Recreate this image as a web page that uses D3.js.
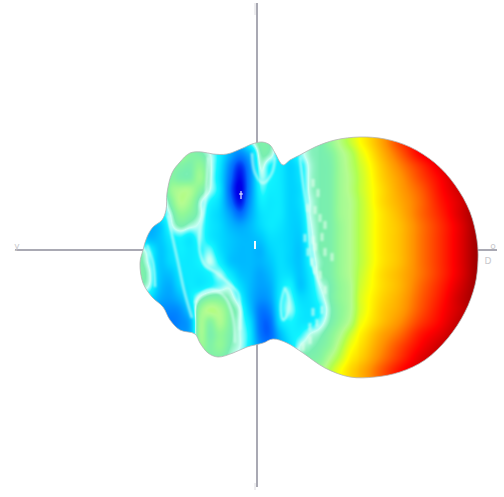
<!DOCTYPE html>
<html>
<head>
<meta charset="utf-8">
<script src="https://cdn.jsdelivr.net/npm/d3@7"></script>
<style>
  html, body { margin: 0; background: #fff; }
  svg { display: block; }
</style>
</head>
<body>
<div id="chart"></div>
<script>
// pattern surface, units are offsets from where the two axes cross
const gridX = [-117,-107,-97,-87,-77,-67,-57,-47,-37,-27,-17,-7,3,13,23,33,43,53,63,73,83,93,103,123,143,163,183,203,223];
const gridY = [120,108,96,84,72,60,48,36,24,12,0,-12,-24,-36,-48,-60,-72,-84,-96,-108,-120,-132];

// gain, one row per gridY, one value per gridX
const gain120 = [30,30,32,35,40,46,44,38,32,26,30,40,46,45,38,34,38,44,45,50,56,62,68,77,87,93,96,99,100];
const gain108 = [30,30,32,35,40,46,44,38,32,26,30,40,46,45,38,34,38,44,45,50,56,62,68,77,87,93,96,99,100];
const gain96 = [30,30,33,38,50,48,46,42,36,26,20,28,44,44,36,34,40,44,45,47,53,58,65,75,84,92,96,99,100];
const gain84 = [30,30,34,46,47,46,50,43,35,20,10,22,42,38,36,32,36,43,45,46,52,57,63,73,81,88,94,98,100];
const gain72 = [30,30,34,47,46,46,52,43,34,17,6,20,40,38,36,32,35,43,45,46,52,56,62,72,79,86,92,97,100];
const gain60 = [30,30,35,50,54,54,48,42,35,15,4,20,38,37,36,32,34,43,45,46,52,56,62,71,78,84,91,96,100];
const gain48 = [30,30,35,46,55,52,43,38,33,18,7,22,36,36,36,32,34,42,45,46,52,55,61,71,77,83,90,95,100];
const gain36 = [28,30,36,42,50,48,43,36,32,24,16,25,34,36,36,32,33,42,45,46,52,55,61,70,76,83,89,95,100];
const gain24 = [26,26,30,40,45,43,41,36,33,28,25,28,33,36,35,32,32,41,45,46,51,55,61,70,75,82,88,94,100];
const gain12 = [34,28,30,36,38,36,40,36,33,30,28,28,30,34,34,32,31,40,45,46,51,55,61,70,75,82,88,94,100];
const gain0 = [44,38,30,34,37,36,38,40,34,30,28,28,27,32,34,32,30,39,45,46,51,55,61,70,75,82,88,94,100];
const gainM12 = [46,40,30,33,36,36,38,42,37,30,28,28,27,30,34,32,30,38,44,46,51,55,61,70,75,82,88,94,100];
const gainM24 = [47,42,30,29,35,36,36,38,41,36,30,28,25,28,34,34,30,36,44,46,51,55,62,71,76,82,88,94,100];
const gainM36 = [45,41,29,26,33,36,36,38,40,41,34,28,24,26,35,38,30,35,42,45,50,54,63,71,76,83,89,95,100];
const gainM48 = [38,34,26,24,28,36,43,47,47,44,38,28,22,24,36,40,34,35,40,45,50,54,64,72,77,84,90,96,100];
const gainM60 = [34,28,22,20,22,32,50,56,54,47,42,30,18,20,36,41,36,35,38,44,49,54,64,73,78,85,91,96,100];
const gainM72 = [30,26,22,18,20,26,52,48,54,47,42,34,17,16,34,38,36,36,40,45,50,56,66,74,80,87,92,97,100];
const gainM84 = [28,24,20,20,22,26,52,46,50,46,42,36,18,15,28,36,38,42,44,48,54,62,69,77,83,90,94,98,100];
const gainM96 = [28,24,22,22,24,28,50,47,50,45,42,36,22,18,26,34,42,44,46,50,58,66,71,79,86,92,96,99,100];
const gainM108 = [28,24,22,22,24,28,44,46,46,43,40,36,28,24,28,34,44,46,48,55,62,69,73,81,88,94,97,99,100];
const gainM120 = [28,24,22,22,24,28,38,40,40,40,40,36,30,28,30,36,46,48,52,60,67,72,76,84,91,95,98,100,100];
const gainM132 = [28,24,22,22,24,28,38,40,40,40,40,36,30,28,30,36,46,48,52,60,67,72,76,84,91,95,98,100,100];
const gainRows = [gain120,gain108,gain96,gain84,gain72,gain60,gain48,gain36,gain24,gain12,gain0,gainM12,gainM24,gainM36,gainM48,gainM60,gainM72,gainM84,gainM96,gainM108,gainM120,gainM132];

const outlineX = [43,58,78,103,128,153,178,198,213,220,221,218,208,191,168,143,118,93,68,46,30,16,6,-10,-24,-39,-49,-57,-62,-77,-87,-94,-105,-114,-117,-114,-110,-104,-95,-91,-90,-85,-77,-67,-55,-44,-30,-14,-5,5,13,18,26,33];
const outlineY = [95,103,110,113,111,103,87,65,38,10,-10,-35,-62,-88,-110,-122,-127,-127,-118,-103,-93,-89,-93,-97,-103,-107,-103,-93,-84,-80,-70,-57,-47,-33,-13,0,13,23,30,40,57,77,88,97,98,96,96,102,106,108,105,97,85,90];

// pale contour bands that are too thin for the gain grid
const bandLeft = [[-89,35],[-85,15],[-79,-12],[-73,-40],[-65,-68]];
const bandMiddle = [[-49,93],[-50,70],[-52,47],[-57,20],[-57,-3],[-52,-15],[-40,-23],[-29,-33],[-19,-43],[-17,-57],[-17,-80]];
const bandLower = [[-62,-53],[-55,-43],[-44,-40],[-32,-47],[-24,-67],[-22,-93]];
const bandEdge = [[-110,5],[-104,-13],[-102,-37]];
const bandTop = [[-5,97],[-2,77],[6,67],[15,77],[18,93]];
const bandRight = [[43,93],[46,67],[51,33],[55,-13],[65,-37]];
const bandLoop = [[28,-37],[32,-50],[30,-65],[26,-70],[24,-55],[28,-37]];
const bands = [bandLeft, bandMiddle, bandLower, bandEdge, bandTop, bandRight, bandLoop];

const speckleX = [56,61,51,58,63,68,48,56,65,51,58,68,75,55,63,68,58,56,65,53,60,46,53,41];
const speckleY = [67,57,42,40,32,25,12,10,13,-2,3,-2,-7,-12,-25,-40,-20,-62,-60,-77,-73,-97,-90,-102];

const gainStops = [0,5,15,25,32,38,42,45,50,55,60,68,80,92,100];
const gainColors = ["#0000c8","#0000e8","#0068ff","#00a8ff","#00d4ff","#10f4ff","#c8fff4","#78eeb0","#90f898","#b4fc90","#b0ff50","#ffff00","#ff9000","#ff0000","#980000"];

const width = 504;
const height = 497;

const x = d3.scaleLinear().domain([-257, 247]).range([0, width]);
const y = d3.scaleLinear().domain([250, -247]).range([0, height]);
const color = d3.scaleLinear().domain(gainStops).range(gainColors).clamp(true);

const colIndex = d3.scaleLinear().domain(gridX).range(d3.range(gridX.length)).clamp(true);
const rowIndex = d3.scaleLinear().domain(gridY).range(d3.range(gridY.length)).clamp(true);

function cubic(a, b, c, d, t) {
  return b + 0.5 * t * (c - a + t * (2 * a - 5 * b + 4 * c - d + t * (3 * (b - c) + d - a)));
}

function gainAt(u, v) {
  const c = colIndex(u), r = rowIndex(v);
  const c0 = Math.min(Math.floor(c), gridX.length - 2);
  const r0 = Math.min(Math.floor(r), gridY.length - 2);
  const across = [-1, 0, 1, 2].map((dr) => {
    const row = gainRows[Math.max(0, Math.min(gridY.length - 1, r0 + dr))];
    const at = (i) => row[Math.max(0, Math.min(gridX.length - 1, c0 + i))];
    return cubic(at(-1), at(0), at(1), at(2), c - c0);
  });
  return cubic(across[0], across[1], across[2], across[3], r - r0);
}

// paint the surface once, the svg clips it to the outline
const canvas = document.createElement("canvas");
canvas.width = width;
canvas.height = height;
const ctx = canvas.getContext("2d");
const img = ctx.createImageData(width, height);
for (let py = 130; py < 385; py++) {
  for (let px = 135; px < 485; px++) {
    const c = d3.rgb(color(gainAt(x.invert(px + 0.5), y.invert(py + 0.5))));
    const k = (py * width + px) * 4;
    img.data[k] = c.r;
    img.data[k + 1] = c.g;
    img.data[k + 2] = c.b;
    img.data[k + 3] = 255;
  }
}
ctx.putImageData(img, 0, 0);

const svg = d3.select("#chart").append("svg")
  .attr("width", width)
  .attr("height", height)
  .attr("viewBox", [0, 0, width, height]);

const outline = d3.line()
  .x((d) => x(d[0]))
  .y((d) => y(d[1]))
  .curve(d3.curveCatmullRomClosed.alpha(0.5))(d3.zip(outlineX, outlineY));

const defs = svg.append("defs");
defs.append("clipPath").attr("id", "body-clip")
  .append("path").attr("d", outline);
defs.append("filter").attr("id", "soft")
  .append("feGaussianBlur").attr("stdDeviation", 1);

const axisColor = "#a9a9b3";
const gAxes = svg.append("g").attr("stroke", axisColor).attr("stroke-width", 2);
gAxes.append("line").attr("x1", x(0)).attr("x2", x(0)).attr("y1", y(247)).attr("y2", y(-237));
gAxes.append("line").attr("x1", x(-242)).attr("x2", x(240)).attr("y1", y(0)).attr("y2", y(0));

const gBody = svg.append("g").attr("clip-path", "url(#body-clip)");
gBody.append("image")
  .attr("width", width)
  .attr("height", height)
  .attr("href", canvas.toDataURL());

const band = d3.line()
  .x((d) => x(d[0]))
  .y((d) => y(d[1]))
  .curve(d3.curveCatmullRom);
gBody.append("g")
  .attr("fill", "none")
  .attr("stroke", "#dcfff6")
  .attr("stroke-opacity", 0.7)
  .attr("stroke-width", 2.4)
  .attr("filter", "url(#soft)")
  .selectAll("path")
  .data(bands)
  .join("path")
  .attr("d", band);

gBody.append("g")
  .attr("stroke", "#e8fff0")
  .attr("stroke-opacity", 0.65)
  .attr("stroke-width", 3)
  .attr("filter", "url(#soft)")
  .selectAll("line")
  .data(d3.zip(speckleX, speckleY))
  .join("line")
  .attr("x1", (d) => x(d[0]))
  .attr("x2", (d) => x(d[0]))
  .attr("y1", (d) => y(d[1]) - 4)
  .attr("y2", (d) => y(d[1]) + 4);

svg.append("path")
  .attr("d", outline)
  .attr("fill", "none")
  .attr("stroke", "#b4b4b4")
  .attr("stroke-width", 0.8);

// small white marks on the surface
svg.append("rect").attr("x", x(-3)).attr("y", y(9)).attr("width", 2).attr("height", 8).attr("fill", "#f4fbff");
svg.append("path").attr("d", `M${x(-16)},${y(59)}V${y(51)}M${x(-18)},${y(56)}H${x(-14)}`)
  .attr("stroke", "#e8f0ff").attr("stroke-width", 1.2).attr("fill", "none");

// faint axis end labels
const labels = svg.append("g").attr("fill", "#c8c8cc").attr("font-family", "DejaVu Sans").attr("font-size", 9);
labels.append("text").attr("x", x(-240)).attr("y", y(0) - 1).attr("text-anchor", "middle").text("y");
labels.append("text").attr("x", x(236)).attr("y", y(0) - 1).attr("text-anchor", "middle").text("o");
labels.append("text").attr("x", x(231)).attr("y", y(-14)).attr("text-anchor", "middle").text("D");
svg.append("g").attr("stroke", "#dcdce0").attr("stroke-width", 1)
  .call((g) => g.append("line").attr("x1", x(-2)).attr("x2", x(-2)).attr("y1", y(247)).attr("y2", y(235)))
  .call((g) => g.append("line").attr("x1", x(-2)).attr("x2", x(-2)).attr("y1", y(-233)).attr("y2", y(-240)));
</script>
</body>
</html>
